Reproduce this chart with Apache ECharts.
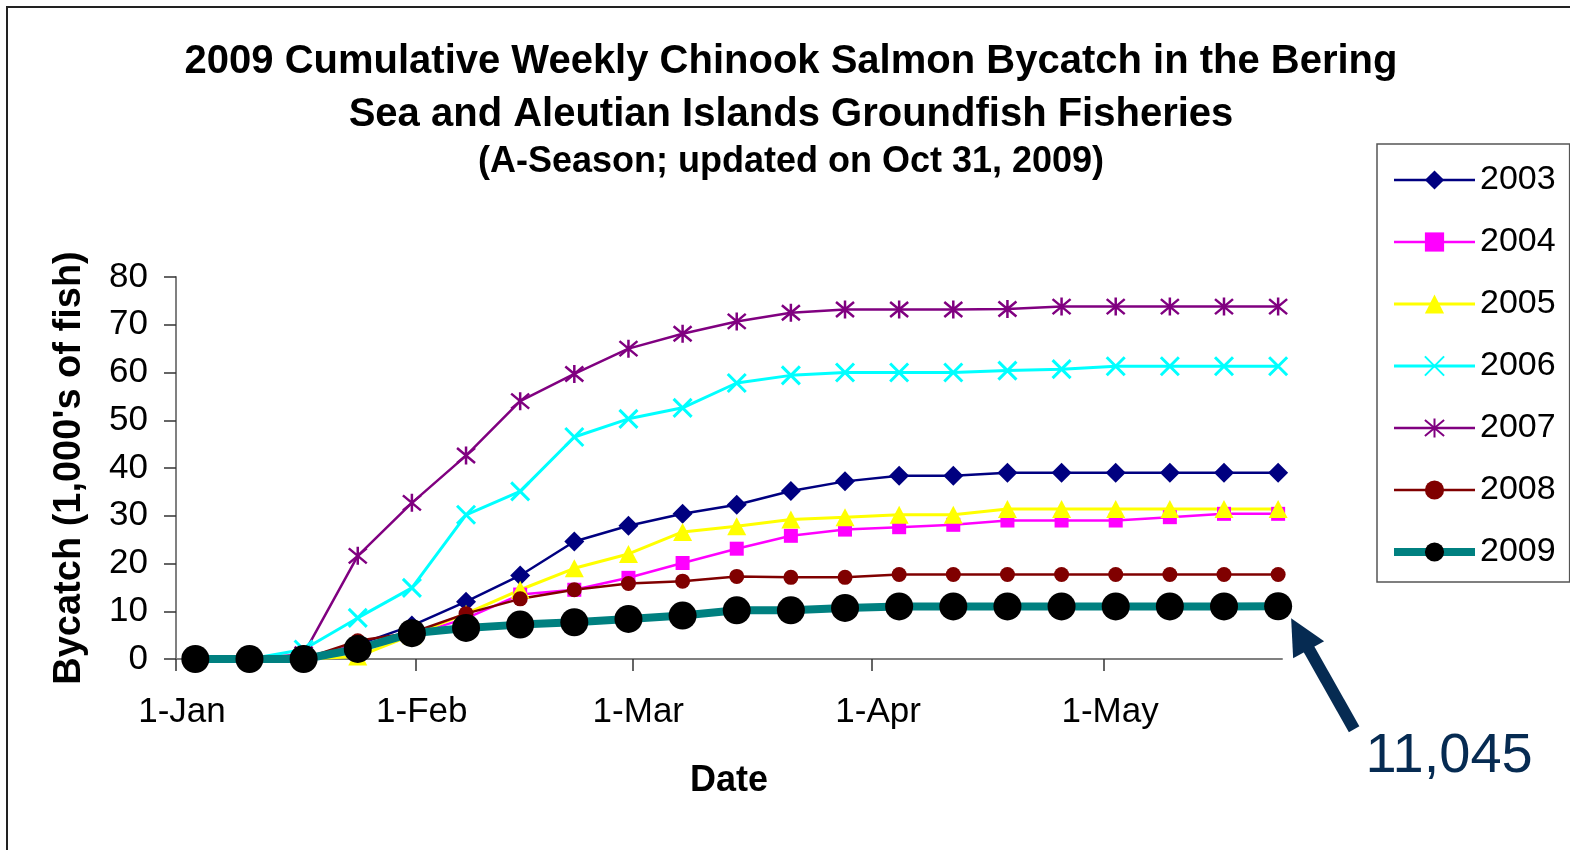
<!DOCTYPE html>
<html>
<head>
    <meta charset="utf-8">
    <title>Chinook Salmon Bycatch</title>
    <script src="https://cdn.jsdelivr.net/npm/echarts@6.0.0/dist/echarts.min.js"></script>
    <style>
        html, body { margin: 0; padding: 0; background: #fff; }
        #main { width: 1570px; height: 850px; }
    </style>
</head>
<body>
<div id="main"></div>
<script type="text/javascript">
    // week ending dates (same for every year)
    var weekDates = ['2009-01-03','2009-01-10','2009-01-17','2009-01-24','2009-01-31','2009-02-07','2009-02-14',
        '2009-02-21','2009-02-28','2009-03-07','2009-03-14','2009-03-21','2009-03-28','2009-04-04',
        '2009-04-11','2009-04-18','2009-04-25','2009-05-02','2009-05-09','2009-05-16','2009-05-23'];
    var tickDates = ['2009-01-01','2009-02-01','2009-03-01','2009-04-01','2009-05-01'];
    var tickLabels = ['1-Jan','1-Feb','1-Mar','1-Apr','1-May'];
    var axisEndDate = '2009-05-24';
    var yTicks = [0, 80, 10];

    var years = ['2003','2004','2005','2006','2007','2008','2009'];
    // cumulative bycatch, 1,000's of fish
    var y2003 = [0,0,0,3,7,12,17.5,24.6,27.9,30.4,32.3,35.2,37.2,38.4,38.4,39,39,39,39,39,39];
    var y2004 = [0,0,0,3,5,8.5,13.5,14.5,17,20.1,23.1,25.8,27.1,27.6,28.1,29,29,29,29.7,30.4,30.4];
    var y2005 = [0,0,0,0.5,5,9.5,14.5,19,22,26.6,27.8,29.2,29.7,30.2,30.2,31.4,31.4,31.4,31.4,31.4,31.4];
    var y2006 = [0,0,2,8.6,14.9,30.2,35.1,46.5,50.3,52.6,57.8,59.4,60,60,60,60.4,60.7,61.3,61.3,61.3,61.3];
    var y2007 = [0,0,1,21.6,32.7,42.6,54,59.7,65,68.1,70.7,72.5,73.2,73.2,73.2,73.3,73.8,73.8,73.8,73.8,73.8];
    var y2008 = [0,0,0,3.8,5.5,9.5,12.6,14.5,15.8,16.3,17.3,17.1,17.1,17.7,17.7,17.7,17.7,17.7,17.7,17.7,17.7];
    var y2009 = [0,0,0,2.1,5.4,6.5,7.2,7.7,8.4,9.1,10.2,10.2,10.7,11,11,11,11,11,11,11,11.045];

    var titleLines = ['2009 Cumulative Weekly Chinook Salmon Bycatch in the Bering',
        'Sea and Aleutian Islands Groundfish Fisheries',
        '(A-Season; updated on Oct 31, 2009)'];

    var font = "'Liberation Sans', Arial, sans-serif";
    var startMs = Date.parse(tickDates[0]);
    function dayOf(d) { return (Date.parse(d) - startMs) / 86400000; }
    // excel date axis puts each point in the middle of its day
    var weekX = weekDates.map(function (d) { return dayOf(d) + 0.5; });
    var tickX = tickDates.map(dayOf);

    function pairs(vals) {
        return vals.map(function (v, i) { return [weekX[i], v]; });
    }

    var xMark = 'path://M0,0L10,10M10,0L0,10';
    var starMark = 'path://M0,0L10,10M10,0L0,10M5,-1L5,11';

    function mk(name, vals, color, symbol, size, lw, extra) {
        var s = {
            name: name,
            type: 'line',
            data: pairs(vals),
            clip: false,
            symbol: symbol,
            symbolSize: size,
            lineStyle: { color: color, width: lw },
            itemStyle: { color: color },
            emphasis: { disabled: true }
        };
        if (extra) { for (var k in extra) s[k] = extra[k]; }
        return s;
    }

    var series = [
        mk(years[0], y2003, '#000080', 'diamond', [20, 20], 2.5),
        mk(years[1], y2004, '#ff00ff', 'rect', [14, 14], 2.5),
        mk(years[2], y2005, '#ffff00', 'triangle', [19, 18], 3),
        mk(years[3], y2006, '#00ffff', xMark, [18, 18], 3,
            { itemStyle: { color: '#00ffff', borderColor: '#00ffff', borderWidth: 3 } }),
        mk(years[4], y2007, '#800080', starMark, [18, 18], 2.5,
            { itemStyle: { color: '#800080', borderColor: '#800080', borderWidth: 2.5 } }),
        mk(years[5], y2008, '#800000', 'circle', 15, 2.5),
        mk(years[6], y2009, '#008080', 'circle', 28, 8,
            { itemStyle: { color: '#000000' } })
    ];

    var chart = echarts.init(document.getElementById('main'));

    var option = {
        backgroundColor: '#ffffff',
        animation: false,
        textStyle: { fontFamily: font },
        legend: {
            orient: 'vertical',
            left: 1377,
            top: 144,
            padding: [16, 14, 10, 13],
            itemGap: 22,
            itemWidth: 81,
            itemHeight: 24,
            borderColor: '#555',
            borderWidth: 1.5,
            data: years,
            lineStyle: { width: 'inherit' },
            textStyle: { fontFamily: font, fontSize: 34, lineHeight: 40, color: '#000' }
        },
        grid: { left: 176, top: 277, width: 1106, height: 382 },
        xAxis: {
            type: 'value',
            min: 0,
            max: dayOf(axisEndDate),
            name: 'Date',
            nameLocation: 'middle',
            nameGap: 104,
            nameTextStyle: { fontFamily: font, fontSize: 36, fontWeight: 'bold', color: '#000' },
            splitLine: { show: false },
            axisLine: { lineStyle: { color: '#808080', width: 2 } },
            axisTick: { show: true, customValues: tickX, length: 12, lineStyle: { color: '#333', width: 1.5 } },
            axisLabel: {
                customValues: tickX,
                margin: 36,
                fontFamily: font,
                fontSize: 35,
                color: '#000',
                padding: [0, 0, 0, 12],
                formatter: function (v) {
                    var i = tickX.indexOf(v);
                    return i >= 0 ? tickLabels[i] : '';
                }
            }
        },
        yAxis: {
            type: 'value',
            min: yTicks[0],
            max: yTicks[1],
            interval: yTicks[2],
            name: "Bycatch (1,000's of fish)",
            nameLocation: 'middle',
            nameRotate: 90,
            nameGap: 87,
            nameTextStyle: { fontFamily: font, fontSize: 38, fontWeight: 'bold', color: '#000' },
            splitLine: { show: false },
            axisLine: { show: true, lineStyle: { color: '#808080', width: 2 } },
            axisTick: { show: true, length: 12, lineStyle: { color: '#333', width: 1.5 } },
            axisLabel: { margin: 28, fontFamily: font, fontSize: 35, color: '#000' }
        },
        series: series
    };
    chart.setOption(option);

    // frame, title, arrow and label pointing at the last 2009 value
    var last = y2009.length - 1;
    var p = chart.convertToPixel({ gridIndex: 0 }, [weekX[last], y2009[last]]);
    var tx = p[0] + 13, ty = p[1] + 12;
    var navy = '#062b52';
    var total = Math.round(y2009[last] * 1000).toLocaleString('en-US');

    function titleText(str, y, size) {
        return {
            type: 'text', x: 791, y: y, silent: true,
            style: { text: str, fill: '#000', font: 'bold ' + size + 'px ' + font, align: 'center', verticalAlign: 'middle' }
        };
    }

    chart.setOption({
        graphic: [{
            type: 'rect',
            shape: { x: 7, y: 7, width: 1620, height: 900 },
            style: { fill: 'none', stroke: '#222', lineWidth: 2 },
            silent: true
        },
            titleText(titleLines[0], 62, 40),
            titleText(titleLines[1], 115, 40),
            titleText(titleLines[2], 162, 36),
        {
            type: 'line',
            shape: { x1: tx + 15, y1: ty + 26, x2: tx + 63, y2: ty + 111 },
            style: { stroke: navy, lineWidth: 12 },
            silent: true
        }, {
            type: 'polygon',
            shape: { points: [[tx, ty], [tx + 33, ty + 23], [tx + 2, ty + 40]] },
            style: { fill: navy },
            silent: true
        }, {
            type: 'text',
            x: tx + 158,
            y: ty + 138,
            style: {
                text: total,
                fill: navy,
                font: '56px ' + font,
                align: 'center',
                verticalAlign: 'middle'
            },
            silent: true
        }]
    });
</script>
</body>
</html>
